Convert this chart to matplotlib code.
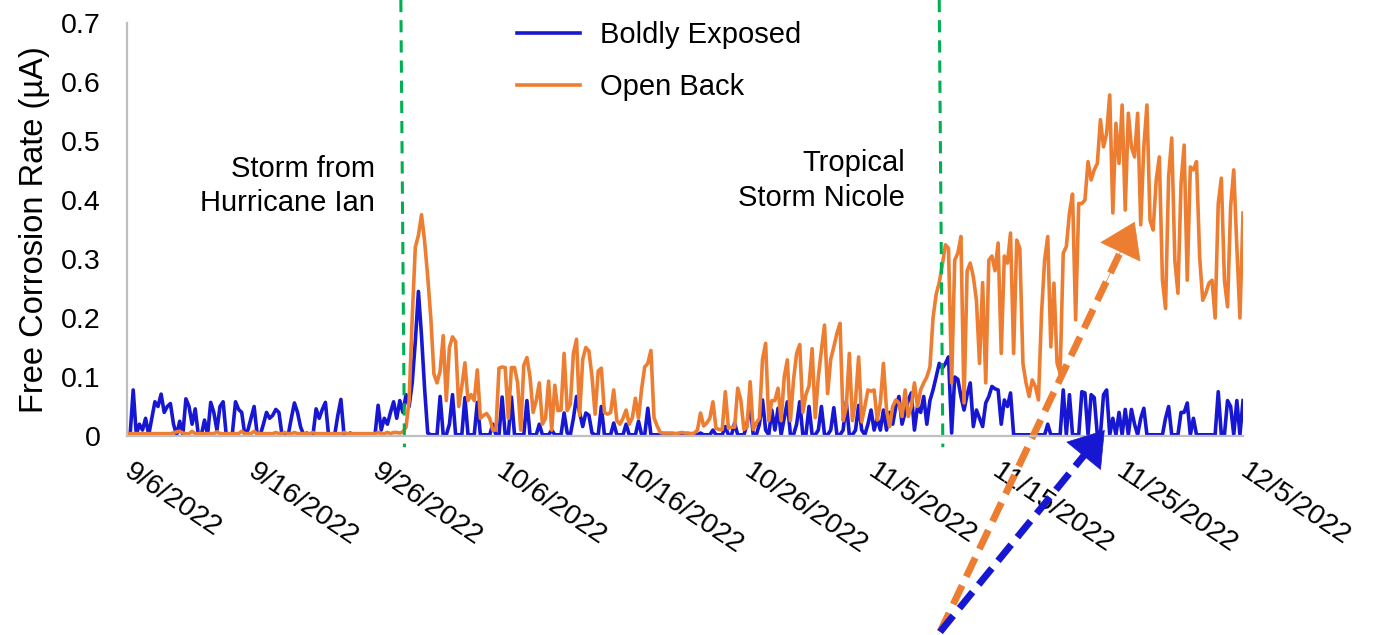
import matplotlib
matplotlib.use("Agg")
import matplotlib.pyplot as plt
import pandas as pd

plt.rcParams['font.family'] = ['Liberation Sans', 'DejaVu Sans']

# ---- data: readings every 6 hours, 9/6/2022 00:00 -> 12/5/2022 00:00 (one row per day) ----
boldly_exposed = [
    0.002, 0.002, 0.078, 0.002,  0.02, 0.01, 0.03, 0.002,  0.03, 0.058, 0.05, 0.071,
    0.04, 0.05, 0.055, 0.02,  0.002, 0.025, 0.002, 0.063,  0.05, 0.02, 0.046, 0.002,
    0.002, 0.027, 0.002, 0.057,  0.04, 0.01, 0.05, 0.058,  0.002, 0.002, 0.005, 0.058,
    0.045, 0.04, 0.002, 0.01,  0.03, 0.05, 0.002, 0.002,  0.02, 0.04, 0.03, 0.035,
    0.045, 0.04, 0.002, 0.002,  0.002, 0.03, 0.056, 0.04,  0.015, 0.002, 0.005, 0.002,
    0.002, 0.046, 0.03, 0.045,  0.057, 0.002, 0.002, 0.002,  0.035, 0.062, 0.002, 0.002,
    0.005, 0.002, 0.002, 0.002,  0.002, 0.002, 0.002, 0.002,  0.002, 0.052, 0.01, 0.03,
    0.02, 0.04, 0.058, 0.03,  0.06, 0.04, 0.07, 0.05,  0.09, 0.16, 0.245, 0.17,
    0.08, 0.005, 0.002, 0.002,  0.002, 0.067, 0.002, 0.002,  0.02, 0.07, 0.002, 0.002,
    0.002, 0.065, 0.002, 0.002,  0.002, 0.057, 0.002, 0.002,  0.002, 0.002, 0.02, 0.002,
    0.002, 0.066, 0.002, 0.002,  0.066, 0.002, 0.002, 0.002,  0.002, 0.06, 0.002, 0.002,
    0.002, 0.02, 0.002, 0.002,  0.002, 0.01, 0.002, 0.002,  0.002, 0.039, 0.005, 0.002,
    0.03, 0.067, 0.04, 0.016,  0.039, 0.035, 0.005, 0.002,  0.002, 0.05, 0.002, 0.002,
    0.002, 0.022, 0.002, 0.002,  0.002, 0.02, 0.002, 0.002,  0.002, 0.025, 0.002, 0.002,
    0.047, 0.002, 0.002, 0.002,  0.002, 0.002, 0.002, 0.002,  0.002, 0.002, 0.002, 0.002,
    0.002, 0.002, 0.002, 0.002,  0.002, 0.005, 0.002, 0.002,  0.002, 0.01, 0.002, 0.002,
    0.002, 0.016, 0.002, 0.002,  0.022, 0.002, 0.002, 0.002,  0.02, 0.056, 0.002, 0.002,
    0.02, 0.061, 0.01, 0.002,  0.044, 0.01, 0.047, 0.002,  0.03, 0.058, 0.002, 0.002,
    0.02, 0.058, 0.002, 0.002,  0.05, 0.002, 0.002, 0.01,  0.05, 0.002, 0.002, 0.01,
    0.048, 0.002, 0.002, 0.01,  0.058, 0.002, 0.002, 0.01,  0.052, 0.01, 0.002, 0.02,
    0.044, 0.01, 0.03, 0.01,  0.044, 0.01, 0.04, 0.02,  0.05, 0.067, 0.02, 0.04,
    0.06, 0.073, 0.01, 0.05,  0.04, 0.067, 0.02, 0.06,  0.078, 0.1, 0.123, 0.115,
    0.123, 0.134, 0.005, 0.1,  0.096, 0.067, 0.044, 0.07,  0.09, 0.016, 0.044, 0.03,
    0.016, 0.056, 0.067, 0.084,  0.08, 0.078, 0.02, 0.061,  0.05, 0.073, 0.002, 0.002,
    0.002, 0.002, 0.002, 0.002,  0.002, 0.002, 0.002, 0.002,  0.002, 0.02, 0.002, 0.002,
    0.002, 0.002, 0.078, 0.002,  0.07, 0.002, 0.002, 0.002,  0.075, 0.073, 0.002, 0.07,
    0.065, 0.002, 0.002, 0.07,  0.078, 0.002, 0.03, 0.002,  0.04, 0.002, 0.045, 0.002,
    0.045, 0.02, 0.002, 0.03,  0.047, 0.002, 0.002, 0.002,  0.002, 0.002, 0.002, 0.03,
    0.05, 0.002, 0.002, 0.002,  0.04, 0.04, 0.056, 0.002,  0.03, 0.002, 0.002, 0.002,
    0.002, 0.002, 0.002, 0.002,  0.075, 0.002, 0.002, 0.06,  0.05, 0.002, 0.06, 0.002,
    0.06,
]

open_back = [
    0.004, 0.004, 0.004, 0.004,  0.004, 0.004, 0.004, 0.004,  0.004, 0.004, 0.004, 0.004,
    0.004, 0.004, 0.004, 0.005,  0.007, 0.008, 0.005, 0.004,  0.004, 0.008, 0.004, 0.004,
    0.004, 0.004, 0.004, 0.004,  0.004, 0.007, 0.004, 0.004,  0.004, 0.004, 0.004, 0.004,
    0.004, 0.008, 0.004, 0.004,  0.004, 0.008, 0.004, 0.004,  0.004, 0.004, 0.004, 0.004,
    0.006, 0.004, 0.004, 0.006,  0.004, 0.004, 0.006, 0.004,  0.004, 0.004, 0.004, 0.004,
    0.006, 0.004, 0.004, 0.004,  0.004, 0.004, 0.004, 0.004,  0.004, 0.004, 0.006, 0.004,
    0.004, 0.004, 0.004, 0.004,  0.004, 0.004, 0.004, 0.004,  0.004, 0.006, 0.004, 0.004,
    0.006, 0.004, 0.006, 0.006,  0.005, 0.007, 0.015, 0.06,  0.2, 0.32, 0.34, 0.375,
    0.33, 0.27, 0.2, 0.105,  0.09, 0.11, 0.17, 0.06,  0.15, 0.168, 0.16, 0.05,
    0.084, 0.124, 0.06, 0.07,  0.06, 0.112, 0.03, 0.035,  0.038, 0.03, 0.01, 0.01,
    0.115, 0.117, 0.116, 0.03,  0.116, 0.116, 0.09, 0.01,  0.12, 0.133, 0.1, 0.04,
    0.06, 0.09, 0.02, 0.03,  0.093, 0.01, 0.086, 0.043,  0.044, 0.14, 0.043, 0.054,
    0.14, 0.164, 0.035, 0.13,  0.15, 0.144, 0.1, 0.037,  0.11, 0.115, 0.04, 0.037,
    0.04, 0.078, 0.026, 0.02,  0.03, 0.044, 0.02, 0.031,  0.064, 0.03, 0.08, 0.117,
    0.123, 0.145, 0.031, 0.017,  0.006, 0.005, 0.005, 0.005,  0.005, 0.004, 0.005, 0.006,
    0.005, 0.005, 0.004, 0.005,  0.01, 0.039, 0.017, 0.022,  0.03, 0.058, 0.013, 0.011,
    0.011, 0.075, 0.013, 0.015,  0.015, 0.081, 0.061, 0.011,  0.015, 0.092, 0.011, 0.022,
    0.03, 0.13, 0.157, 0.026,  0.06, 0.06, 0.081, 0.026,  0.1, 0.129, 0.026, 0.095,
    0.14, 0.155, 0.04, 0.07,  0.085, 0.148, 0.031, 0.1,  0.146, 0.188, 0.072, 0.13,
    0.151, 0.174, 0.191, 0.026,  0.048, 0.14, 0.026, 0.06,  0.134, 0.024, 0.05, 0.078,
    0.076, 0.078, 0.027, 0.056,  0.123, 0.044, 0.016, 0.05,  0.061, 0.056, 0.033, 0.078,
    0.033, 0.05, 0.09, 0.05,  0.078, 0.09, 0.1, 0.117,  0.2, 0.24, 0.26, 0.29,
    0.324, 0.318, 0.09, 0.298,  0.31, 0.338, 0.056, 0.28,  0.293, 0.27, 0.23, 0.123,
    0.26, 0.09, 0.298, 0.305,  0.28, 0.327, 0.14, 0.305,  0.293, 0.344, 0.14, 0.332,
    0.318, 0.123, 0.09, 0.067,  0.095, 0.084, 0.061, 0.208,  0.298, 0.338, 0.151, 0.259,
    0.124, 0.106, 0.31, 0.321,  0.378, 0.41, 0.197, 0.394,  0.394, 0.4, 0.465, 0.434,
    0.451, 0.462, 0.536, 0.49,  0.513, 0.578, 0.378, 0.53,  0.462, 0.561, 0.383, 0.547,
    0.49, 0.473, 0.547, 0.358,  0.49, 0.561, 0.366, 0.349,  0.434, 0.473, 0.264, 0.216,
    0.44, 0.505, 0.298, 0.242,  0.428, 0.493, 0.264, 0.456,  0.451, 0.465, 0.304, 0.23,
    0.242, 0.259, 0.264, 0.2,  0.394, 0.437, 0.264, 0.219,  0.389, 0.451, 0.321, 0.2,
    0.378,
]

tick_labels = ["9/6/2022", "9/16/2022", "9/26/2022", "10/6/2022", "10/16/2022",
               "10/26/2022", "11/5/2022", "11/15/2022", "11/25/2022", "12/5/2022"]

storm_names = ["Storm from\nHurricane Ian", "Tropical\nStorm Nicole"]
storm_dates = ["2022-09-28 02:00", "2022-11-10 12:00"]

times = pd.date_range("2022-09-06", periods=len(open_back), freq="6h")
tick_dates = pd.date_range("2022-09-06", periods=len(tick_labels), freq="10D")

blue = "#1717D3"
orange = "#ED7D31"
green = "#00B050"
grey = "#BFBFBF"

fig = plt.figure(figsize=(13.85, 6.35), dpi=100)
ax = fig.add_axes([0.0917, 0.3134, 0.8058, 0.6504])

ax.plot(times, boldly_exposed, color=blue, lw=2.6, label="Boldly Exposed")
ax.plot(times, open_back, color=orange, lw=2.6, label="Open Back")

ax.set_xlim(tick_dates[0], tick_dates[-1])
ax.set_ylim(0, 0.7)
ax.set_yticks([0, 0.1, 0.2, 0.3, 0.4, 0.5, 0.6, 0.7])
ax.set_yticklabels(["0", "0.1", "0.2", "0.3", "0.4", "0.5", "0.6", "0.7"])
ax.set_xticks(tick_dates)
ax.set_xticklabels(tick_labels, rotation=-34, ha="left", va="center",
                   rotation_mode="anchor")
ax.tick_params(axis="both", length=0, labelsize=20.5)
ax.tick_params(axis="y", pad=19)
ax.tick_params(axis="x", pad=24)

for s in ["top", "right"]:
    ax.spines[s].set_visible(False)
for s in ["left", "bottom"]:
    ax.spines[s].set_color(grey)
    ax.spines[s].set_linewidth(1.6)

ax.set_ylabel("Free Corrosion Rate (µA)", fontsize=23.5, labelpad=8)

# storm markers (green dashed verticals running past the plot area)
for d in storm_dates:
    top = pd.Timestamp(d)
    bottom = top + pd.Timedelta(hours=7)
    ax.plot([top, bottom], [0.739, -0.019], color=green, lw=2.2,
            ls=(0, (4, 2.6)), clip_on=False)

ax.text(pd.Timestamp("2022-09-26"), 0.424, storm_names[0], ha="right", va="center",
        fontsize=21, linespacing=1.3)
ax.text(pd.Timestamp("2022-11-07 18:00"), 0.433, storm_names[1], ha="right",
        va="center", fontsize=21, linespacing=1.3)

# trend arrows from below the axis: dashed shaft + solid head
x0, y0 = pd.Timestamp("2022-11-10 13:40"), -0.332
for x1, y1, col in [(pd.Timestamp("2022-11-26 06:15"), 0.363, orange),
                    (pd.Timestamp("2022-11-23 20:10"), 0.010, blue)]:
    xm, ym = x0 + (x1 - x0) * 0.93, y0 + (y1 - y0) * 0.93
    ax.plot([x0, xm], [y0, ym], color=col, lw=5, ls=(0, (3, 1.4)),
            solid_capstyle="butt", dash_capstyle="butt", clip_on=False)
    xh, yh = x0 + (x1 - x0) * 0.85, y0 + (y1 - y0) * 0.85
    ax.annotate("", xy=(x1, y1), xytext=(xh, yh), annotation_clip=False,
                arrowprops=dict(arrowstyle="-|>,head_length=0.9,head_width=0.6",
                                color=col, lw=0.5, mutation_scale=26,
                                shrinkA=0, shrinkB=0))

ax.legend(loc="upper left", bbox_to_anchor=(0.3733, 0.967),
          bbox_transform=fig.transFigure, frameon=False, fontsize=21,
          handlelength=2.15, handletextpad=0.7, labelspacing=0.84,
          borderpad=0, borderaxespad=0)

fig.savefig("out.png", dpi=100)
